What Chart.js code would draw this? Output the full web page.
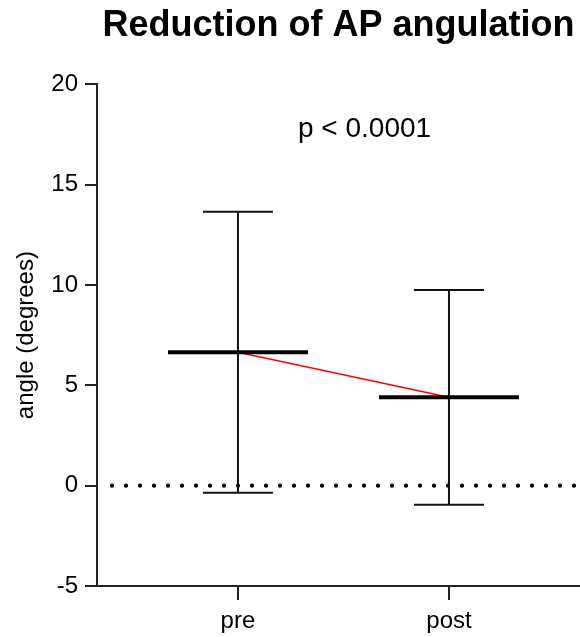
<!DOCTYPE html>
<html>
<head>
<meta charset="utf-8">
<script src="https://cdn.jsdelivr.net/npm/chart.js@4"></script>
<style>
  html, body { margin: 0; padding: 0; background: #fff; }
  #wrap { width: 580px; height: 637px; }
</style>
</head>
<body>
<div id="wrap"><canvas id="chart"></canvas></div>
<script>
// Data
const groups = ['pre', 'post'];
const means = [6.65, 4.4];
const lower = [-0.35, -0.95];
const upper = [13.65, 9.75];
const yTicks = [-5, 0, 5, 10, 15, 20];
const pLabel = 'p < 0.0001';

Chart.defaults.font.family = "'Liberation Sans', Arial, sans-serif";
Chart.defaults.color = '#000';

// Draws the dotted zero line, the error bars, the mean lines and the p value
const errorBars = {
  id: 'errorBars',
  beforeDatasetsDraw(chart) {
    const { ctx, chartArea, scales: { y } } = chart;
    const y0 = y.getPixelForValue(0);
    ctx.save();
    ctx.setLineDash([0, 14]);
    ctx.lineCap = 'round';
    ctx.lineWidth = 4.2;
    ctx.strokeStyle = '#000';
    ctx.beginPath();
    ctx.moveTo(chartArea.left + 15, y0);
    ctx.lineTo(chartArea.right, y0);
    ctx.stroke();
    ctx.restore();
  },
  afterDatasetsDraw(chart) {
    const { ctx, scales: { x, y } } = chart;
    const seg = (x1, y1, x2, y2, w) => {
      ctx.lineWidth = w;
      ctx.beginPath();
      ctx.moveTo(x1, y1);
      ctx.lineTo(x2, y2);
      ctx.stroke();
    };
    ctx.save();
    groups.forEach((g, i) => {
      const cx = x.getPixelForValue(i);
      const top = y.getPixelForValue(upper[i]);
      const bot = y.getPixelForValue(lower[i]);
      const m = y.getPixelForValue(means[i]);
      ctx.strokeStyle = '#111';
      seg(cx, top, cx, bot, 2);
      seg(cx - 35, top, cx + 35, top, 2);
      seg(cx - 35, bot, cx + 35, bot, 2);
      ctx.strokeStyle = '#000';
      seg(cx - 70, m, cx + 70, m, 4);
    });
    // p value annotation
    ctx.fillStyle = '#000';
    ctx.font = "28px 'Liberation Sans', Arial, sans-serif";
    ctx.textAlign = 'center';
    ctx.textBaseline = 'alphabetic';
    ctx.fillText(pLabel, x.getPixelForValue(0.6), y.getPixelForValue(17.35));
    ctx.restore();
  }
};

const ctx = document.getElementById('chart').getContext('2d');
new Chart(ctx, {
  type: 'line',
  data: {
    datasets: [{
      data: means.map((m, i) => ({ x: i, y: m })),
      borderColor: '#ff0000',
      borderWidth: 1.5,
      pointRadius: 0,
      tension: 0,
      fill: false
    }]
  },
  options: {
    responsive: true,
    maintainAspectRatio: false,
    animation: false,
    layout: { padding: 0 },
    plugins: {
      legend: { display: false },
      tooltip: { enabled: false },
      title: {
        display: true,
        text: 'Reduction of AP angulation',
        fullSize: false,
        color: '#000',
        font: { size: 36, weight: 'bold' },
        padding: { top: 4, bottom: 37 }
      }
    },
    scales: {
      x: {
        type: 'linear',
        min: -0.668,
        max: 1.621,
        afterBuildTicks: s => { s.ticks = groups.map((g, i) => ({ value: i })); },
        afterFit: s => { s.height = 51; },
        grid: { drawOnChartArea: false, drawTicks: true, tickLength: 14, color: '#222', lineWidth: 2 },
        border: { color: '#222', width: 2 },
        ticks: {
          callback: v => groups[v],
          font: { size: 24 },
          color: '#000',
          padding: 7,
          maxRotation: 0,
          autoSkip: false
        }
      },
      y: {
        min: -5,
        max: 20,
        afterBuildTicks: s => { s.ticks = yTicks.map(v => ({ value: v })); },
        afterFit: s => { s.width = 97; },
        grid: { drawOnChartArea: false, drawTicks: true, tickLength: 12, color: '#222', lineWidth: 2 },
        border: { color: '#222', width: 2 },
        ticks: { font: { size: 24 }, color: '#000', padding: 7 },
        title: {
          display: true,
          text: 'angle (degrees)',
          color: '#000',
          font: { size: 24 },
          padding: { top: 12, bottom: 0 }
        }
      }
    }
  },
  plugins: [errorBars]
});
</script>
</body>
</html>
